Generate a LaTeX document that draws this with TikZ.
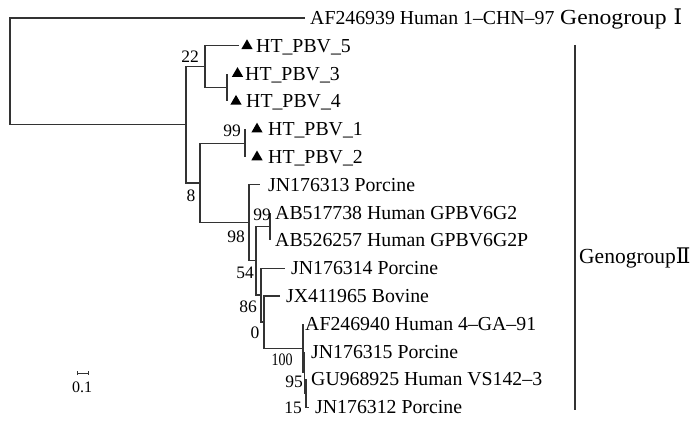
\documentclass[tikz,border=0pt]{standalone}
\usepackage{fontspec}
\setmainfont{Liberation Serif}
\newfontfamily\romfont{DejaVu Serif}
\usetikzlibrary{arrows.meta, positioning, shapes.geometric}
\tikzset{
    br/.style={line width=1.1pt, black!80},
    leaf/.style={anchor=west, inner sep=0pt, text height=13pt, text depth=0pt, font=\fontsize{19.8}{19.8}\selectfont},
    boot/.style={inner sep=0pt, font=\fontsize{17.5}{17.5}\selectfont},
    tri/.style={regular polygon, regular polygon sides=3, fill, inner sep=0pt, minimum size=13pt},
    grp/.style={anchor=west, inner sep=0pt, text height=13pt, text depth=0pt, font=\fontsize{21.5}{21.5}\selectfont}
}

\begin{document}
\begin{tikzpicture}[x=1pt, y=-1pt]
        \useasboundingbox (0,0) rectangle (700,425);
        % inner nodes
        \coordinate (r0) at (10,71.4);
        \coordinate (nA) at (186,124.8);
        \coordinate (n22) at (205,66.6);
        \coordinate (n34) at (227,87.5);
        \coordinate (n8) at (200,183);
        \coordinate (n99a) at (245,143.1);
        \coordinate (n98) at (249,222.8);
        \coordinate (n54) at (256,260.8);
        \coordinate (n99b) at (270,226.5);
        \coordinate (n86) at (261,295);
        \coordinate (n0) at (264,322);
        \coordinate (n100) at (303,348.1);
        \coordinate (n95) at (304.5,372.5);
        \coordinate (n15) at (306,393.3);
        % tips
        \coordinate (t0) at (305,18);
        \coordinate (t5) at (239,45.8);
        \coordinate (t3) at (227,73.6);
        \coordinate (t4) at (227,101.4);
        \coordinate (t1) at (245,129.2);
        \coordinate (t2) at (245,157);
        \coordinate (t6) at (260,184.8);
        \coordinate (t7) at (270,212.6);
        \coordinate (t8) at (270,240.4);
        \coordinate (t9) at (285,268.2);
        \coordinate (t10) at (280,296);
        \coordinate (t11) at (303,323.8);
        \coordinate (t12) at (304.5,351.6);
        \coordinate (t13) at (306,379.4);
        \coordinate (t14) at (309,407.2);

        % leaves
        \node[leaf] (l0) at (310,18) {AF246939 Human 1–CHN–97};
        \node[tri] (m5) at (247,45.8) {};
        \node[leaf] (l5) at (256,45.8) {HT\_PBV\_5};
        \node[tri] (m3) at (237.5,73.6) {};
        \node[leaf] (l3) at (245,73.6) {HT\_PBV\_3};
        \node[tri] (m4) at (236,101.4) {};
        \node[leaf] (l4) at (246,101.4) {HT\_PBV\_4};
        \node[tri] (m1) at (257,129.2) {};
        \node[leaf] (l1) at (268,129.2) {HT\_PBV\_1};
        \node[tri] (m2) at (257,157) {};
        \node[leaf] (l2) at (268,157) {HT\_PBV\_2};
        \node[leaf] (l6) at (268,184.8) {JN176313 Porcine};
        \node[leaf] (l7) at (275,212.6) {AB517738 Human GPBV6G2};
        \node[leaf] (l8) at (275,240.4) {AB526257 Human GPBV6G2P};
        \node[leaf] (l9) at (291,268.2) {JN176314 Porcine};
        \node[leaf] (l10) at (286,296) {JX411965 Bovine};
        \node[leaf] (l11) at (305,323.8) {AF246940 Human 4–GA–91};
        \node[leaf] (l12) at (311,351.6) {JN176315 Porcine};
        \node[leaf] (l13) at (311,379.4) {GU968925 Human VS142–3};
        \node[leaf] (l14) at (315,407.2) {JN176312 Porcine};

        % branches
        \draw[br] (r0) |- (t0);
        \draw[br] (r0) |- (nA);
        \draw[br] (nA) |- (n22);
        \draw[br] (nA) |- (n8);
        \draw[br] (n22) |- (t5);
        \draw[br] (n22) |- (n34);
        \draw[br] (n34) |- (t3);
        \draw[br] (n34) |- (t4);
        \draw[br] (n8) |- (n99a);
        \draw[br] (n8) |- (n98);
        \draw[br] (n99a) |- (t1);
        \draw[br] (n99a) |- (t2);
        \draw[br] (n98) |- (t6);
        \draw[br] (n98) |- (n54);
        \draw[br] (n54) |- (n99b);
        \draw[br] (n54) |- (n86);
        \draw[br] (n99b) |- (t7);
        \draw[br] (n99b) |- (t8);
        \draw[br] (n86) |- (t9);
        \draw[br] (n86) |- (n0);
        \draw[br] (n0) |- (t10);
        \draw[br] (n0) |- (n100);
        \draw[br] (n100) |- (t11);
        \draw[br] (n100) |- (n95);
        \draw[br] (n95) |- (t12);
        \draw[br] (n95) |- (n15);
        \draw[br] (n15) |- (t13);
        \draw[br] (n15) |- (t14);

        % bootstrap values
        \node[boot] (b22) at (190,57) {22};
        \node[boot] (b8) at (191,196) {8};
        \node[boot] (b99a) at (232,131) {99};
        \node[boot] (b99b) at (262,215) {99};
        \node[boot] (b98) at (236,237) {98};
        \node[boot] (b54) at (245,273) {54};
        \node[boot] (b86) at (248,307) {86};
        \node[boot] (b0) at (255,333) {0};
        \node[boot] (b100) at (282,360) {\scalebox{0.8}[1]{100}};
        \node[boot] (b95) at (294,382) {95};
        \node[boot] (b15) at (293,408) {15};

        % genogroups
        \node[grp] (g1) at (560,18) {\scalebox{1.1}[1]{Genogroup}\hspace{7pt}{\romfont Ⅰ}};
        \coordinate (g2top) at (575,45);
        \coordinate (g2bot) at (575,410);
        \draw[br] (g2top) -- (g2bot);
        \node[grp] (g2) at (579,257) {Genogroup{\romfont Ⅱ}};

        % scale bar
        \coordinate (sb1) at (77,373);
        \coordinate (sb2) at (89,373);
        \draw[line width=0.9pt, black!80, {Bar[width=4pt]}-{Bar[width=4pt]}] (sb1) -- (sb2);
        \node[boot, font=\fontsize{16}{16}\selectfont] (sbl) at (82,387) {0.1};
    \end{tikzpicture}
\end{document}
